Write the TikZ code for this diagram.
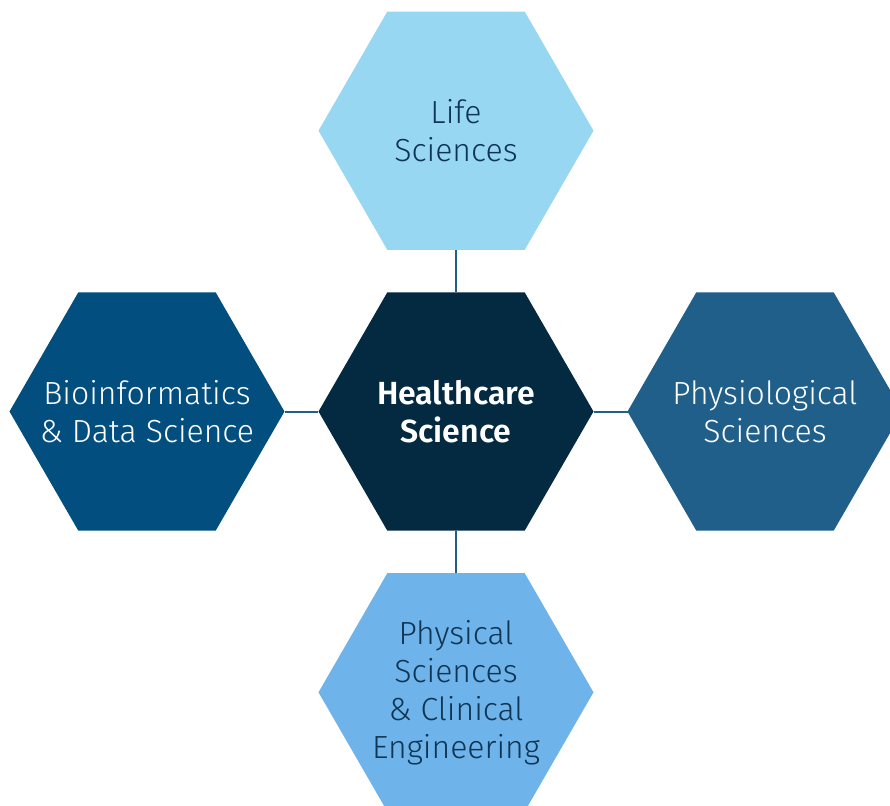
\documentclass[tikz,border=0pt]{standalone}
\usepackage{fontspec}
\setmainfont{Fira Sans}[UprightFont=* Light, BoldFont=* SemiBold]
\usetikzlibrary{positioning, shapes.geometric}
\definecolor{hcnavy}{HTML}{032A40}
\definecolor{hcbio}{HTML}{024E7E}
\definecolor{hcphys}{HTML}{1F5F8A}
\definecolor{hclife}{HTML}{97D7F2}
\definecolor{hcclin}{HTML}{6EB3EA}
\definecolor{hcink}{HTML}{0E3553}
\definecolor{hclink}{HTML}{1F5F8A}

\begin{document}
\begin{tikzpicture}[x=0.5pt, y=-0.5pt, node distance=21.3pt and 17pt,
  font=\fontsize{16}{19}\selectfont,
  hex/.style={regular polygon, regular polygon sides=6, minimum size=137.5pt, inner sep=0pt, outer sep=0pt},
  lighttxt/.style={align=center, text=white},
  darktxt/.style={align=center, text=hcink},
  link/.style={draw=hclink, line width=1pt}]
\useasboundingbox (0,0) rectangle (890,805);
\clip (0,0) rectangle (890,805);
\node[hex, fill=hcnavy, label={[lighttxt, font=\fontsize{16}{19}\selectfont\bfseries]center:{Healthcare\\Science}}] (HS) at (456,411.5) {};
\node[hex, fill=hclife, above=of HS, label={[darktxt]center:{Life\\Sciences}}] (LS) {};
\node[hex, fill=hcbio, left=of HS, label={[lighttxt]center:{Bioinformatics\\\& Data Science}}] (BD) {};
\node[hex, fill=hcphys, right=of HS, label={[lighttxt]center:{Physiological\\Sciences}}] (PS) {};
\node[hex, fill=hcclin, below=of HS, label={[darktxt]center:{Physical\\Sciences\\\& Clinical\\Engineering}}] (PC) {};
\draw[link] (HS) -- (LS); \draw[link] (HS) -- (BD); \draw[link] (HS) -- (PS); \draw[link] (HS) -- (PC);
\end{tikzpicture}
\end{document}
